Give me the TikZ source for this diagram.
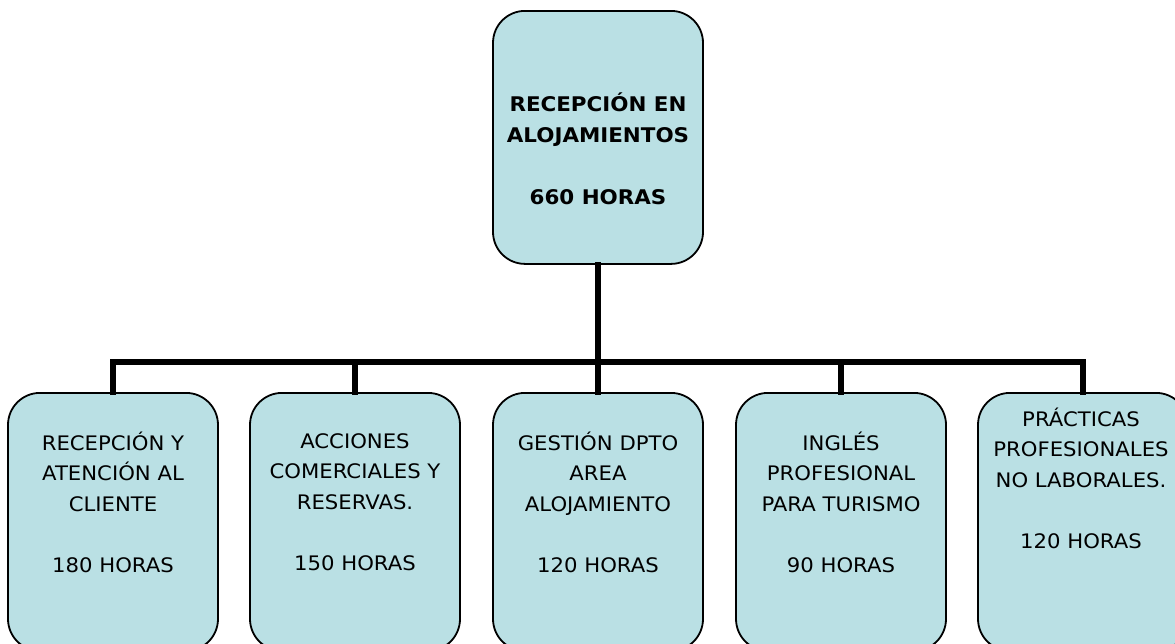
\documentclass[tikz,border=0pt]{standalone}
\usepackage{fontspec}
\setmainfont{DejaVu Sans}[FakeStretch=1.06]
\definecolor{boxfill}{RGB}{186,224,228}
\begin{document}
\begin{tikzpicture}[x=1pt,y=-1pt,
  box/.style={draw=black,line width=1.8pt,fill=boxfill,rounded corners=32pt,
    minimum width=210pt,inner sep=0pt,anchor=north},
  lowbox/.style={box,minimum height=258pt},
  lbl/.style={align=center,inner sep=0pt,font=\fontsize{20}{30.5}\selectfont},
  toplbl/.style={align=center,inner sep=0pt,font=\fontsize{20.2}{31}\selectfont\bfseries},
  conn/.style={line width=6pt,line join=miter,line cap=rect}]
\useasboundingbox (0,0) rectangle (1175,643);
\clip (0,0) rectangle (1175,643);
\coordinate (hub) at (598,362);
\node[box,minimum height=253pt] (top) at (598,10) {};
\node[lowbox] (b1) at (113,392) {};
\node[lowbox] (b2) at (355,392) {};
\node[lowbox] (b3) at (598,392) {};
\node[lowbox] (b4) at (841,392) {};
\node[lowbox] (b5) at (1083,392) {};
\draw[conn] (top.south) -- (hub);
\draw[conn] (b1.north) -- (b1.north |- hub) -- (b5.north |- hub) -- (b5.north);
\draw[conn] (b2.north) -- (b2.north |- hub);
\draw[conn] (b3.north) -- (b3.north |- hub);
\draw[conn] (b4.north) -- (b4.north |- hub);
% labels
\node[toplbl] (ttop) at (598,149) {RECEPCIÓN EN\\ALOJAMIENTOS\\[31pt]660 HORAS};
\node[lbl] (t1) at (113,502) {RECEPCIÓN Y\\ATENCIÓN AL\\CLIENTE\\[30.5pt]180 HORAS};
\node[lbl] (t2) at (355,502) {ACCIONES\\COMERCIALES Y\\RESERVAS.\\[30.5pt]150 HORAS};
\node[lbl] (t3) at (598,502) {GESTIÓN DPTO\\AREA\\ALOJAMIENTO\\[30.5pt]120 HORAS};
\node[lbl] (t4) at (841,502) {INGLÉS\\PROFESIONAL\\PARA TURISMO\\[30.5pt]90 HORAS};
\node[lbl] (t5) at (1081,478) {PRÁCTICAS\\PROFESIONALES\\NO LABORALES.\\[30.5pt]120 HORAS};
\end{tikzpicture}
\end{document}
